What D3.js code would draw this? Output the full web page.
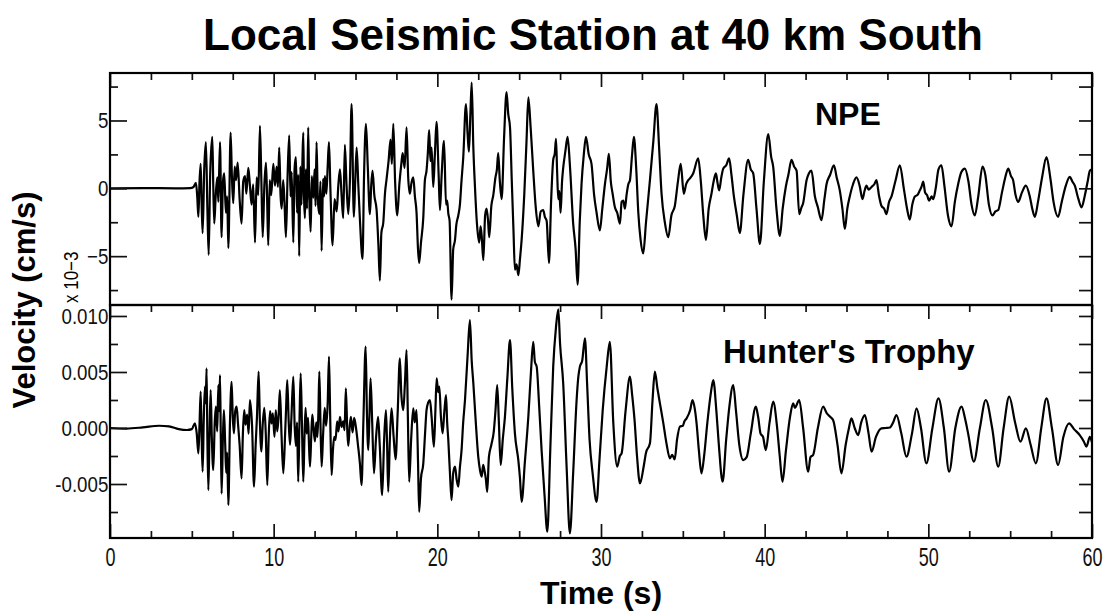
<!DOCTYPE html>
<html>
<head>
<meta charset="utf-8">
<script src="https://cdn.jsdelivr.net/npm/d3@7"></script>
<style>
  body { margin: 0; background: #fff; }
</style>
</head>
<body>
<div id="chart"></div>
<script>
// velocity traces, [time (s), velocity (x 10^-3 cm/s)]
const npeTrace = [
  [0,0],[2,0.02],[4,0],[4.9,0.02],[5.1,0.1],[5.25,0.4],[5.33,-0.6],[5.40,-2.1],[5.47,0.5],[5.54,1.8],[5.60,-1.2],[5.66,-3.3],
  [5.76,1.5],[5.86,3.4],[5.95,-1.5],[6.03,-4.9],[6.12,1.0],[6.25,3.8],[6.31,0.2],[6.37,-2.6],[6.46,-0.5],[6.56,0.8],[6.62,-1.0],
  [6.72,3.4],[6.82,-3.6],[6.90,0.5],[6.98,1.1],[7.08,-1.8],[7.16,-0.6],[7.23,-4.4],[7.37,4.1],[7.45,0.8],[7.53,-1.1],[7.62,1.6],
  [7.70,0.6],[7.80,1.9],[7.92,-0.8],[8.04,-2.6],[8.14,0.5],[8.25,0.9],[8.33,-0.4],[8.45,1.5],[8.55,0.2],[8.65,-1.2],[8.75,0.3],
  [8.86,-4.0],[8.96,0.8],[9.06,-0.5],[9.16,4.6],[9.25,0.5],[9.33,-3.6],[9.43,0.2],[9.53,1.9],[9.60,-0.8],[9.67,-4.2],[9.76,0.6],
  [9.85,-0.5],[9.98,1.8],[10.08,0.2],[10.18,1.6],[10.26,0.1],[10.34,3.0],[10.42,-0.5],[10.49,-1.5],[10.58,0.6],[10.66,-1.0],
  [10.75,-3.6],[10.85,0.9],[10.95,3.9],[11.03,-0.6],[11.10,1.2],[11.20,-4.0],[11.28,1.5],[11.36,2.3],[11.43,-1.8],[11.50,1.0],
  [11.56,-5.0],[11.63,1.6],[11.70,-1.2],[11.76,2.2],[11.81,4.1],[11.86,-0.8],[11.91,-2.2],[11.97,1.4],[12.04,-1.5],[12.11,4.5],
  [12.18,-0.8],[12.26,-3.2],[12.33,0.9],[12.42,-0.7],[12.50,1.4],[12.56,-1.3],[12.62,3.4],[12.70,-0.9],[12.79,-1.9],[12.86,0.5],
  [12.93,-4.6],[13.02,0.7],[13.08,-0.6],[13.13,0.9],[13.22,-0.4],[13.30,1.6],[13.38,3.4],[13.47,-0.2],[13.60,-4.2],[13.72,-0.8],
  [13.85,-1.7],[13.95,0.2],[14.05,1.4],[14.15,-0.5],[14.25,-2.2],[14.35,3.2],[14.45,0.3],[14.56,-1.9],[14.66,0.6],[14.76,6.2],
  [14.90,-2.1],[14.98,0.4],[15.07,3.0],[15.17,0.3],[15.27,-2.3],[15.43,-5.2],[15.52,0.8],[15.64,4.75],[15.75,1.6],[15.88,-1.9],
  [15.96,0.2],[16.04,1.3],[16.15,-0.5],[16.29,-1.6],[16.40,-4.2],[16.49,-6.8],[16.58,-3.3],[16.70,-2.5],[16.80,-0.4],[16.90,0.7],
  [17.02,2.0],[17.14,3.6],[17.22,1.8],[17.31,4.75],[17.42,0.5],[17.55,-2.0],[17.68,0.3],[17.80,1.8],[17.88,2.6],[18.00,1.5],
  [18.12,4.5],[18.22,0.8],[18.32,-0.4],[18.42,0.4],[18.53,0.8],[18.63,-0.6],[18.73,-1.8],[18.82,-4.5],[18.89,-5.5],[19.00,-4.0],
  [19.14,-2.2],[19.24,0.6],[19.34,1.3],[19.42,2.6],[19.50,4.3],[19.58,2.0],[19.65,3.0],[19.75,0.1],[19.85,2.5],[19.95,4.9],
  [20.08,1.0],[20.16,-1.6],[20.26,0.9],[20.41,3.5],[20.53,-1.2],[20.60,-0.9],[20.67,-1.85],[20.75,-2.4],[20.87,-8.2],[20.97,-4.5],
  [21.08,-3.8],[21.16,-2.7],[21.28,-2.0],[21.38,-1.2],[21.48,0.6],[21.58,2.2],[21.75,6.2],[21.85,4.0],[21.93,2.7],[22.02,5.5],
  [22.10,7.8],[22.20,3.0],[22.30,0.1],[22.42,-2.6],[22.56,-4.0],[22.64,-2.8],[22.71,-3.5],[22.81,-5.3],[22.92,-2.0],[23.01,-1.5],
  [23.10,-2.4],[23.17,-3.6],[23.30,-1.3],[23.42,-0.5],[23.55,0.8],[23.64,1.4],[23.72,2.6],[23.82,0.5],[23.93,-0.8],[24.08,3.8],
  [24.23,7.1],[24.33,5.5],[24.44,4.5],[24.55,0.5],[24.65,-3.0],[24.74,-6.0],[24.84,-5.6],[24.95,-6.4],[25.05,-5.2],[25.15,-3.8],
  [25.31,-0.5],[25.45,3.5],[25.56,6.7],[25.70,4.5],[25.86,1.3],[26.02,-1.5],[26.17,-2.8],[26.32,-1.7],[26.47,-1.6],[26.57,-2.1],
  [26.68,-2.4],[26.82,-5.5],[26.95,-1.0],[27.08,2.1],[27.18,2.6],[27.25,3.65],[27.32,1.2],[27.39,-0.8],[27.46,-0.2],[27.53,-1.8],
  [27.62,0.5],[27.69,1.5],[27.82,2.7],[27.96,3.8],[28.10,1.7],[28.30,-2.6],[28.45,-4.5],[28.57,-7.1],[28.70,-2.5],[28.81,0.3],
  [28.95,2.5],[29.08,3.8],[29.25,2.5],[29.42,1.8],[29.58,-0.5],[29.73,-1.8],[29.93,-3.1],[30.08,-1.5],[30.24,0.3],[30.38,1.5],
  [30.48,2.55],[30.60,0.5],[30.71,-0.4],[30.85,-1.4],[30.99,-1.8],[31.16,-2.6],[31.26,-1.0],[31.36,-0.9],[31.46,-1.5],[31.56,-0.5],
  [31.67,0.3],[31.77,0.6],[31.90,2.5],[32.01,3.8],[32.15,1.5],[32.28,-1.8],[32.42,-3.8],[32.58,-4.8],[32.75,-2.5],[32.99,0.6],
  [33.20,3.5],[33.39,6.2],[33.55,3.0],[33.70,-0.4],[33.90,-2.5],[34.11,-3.6],[34.30,-2.0],[34.51,-1.3],[34.70,0.5],[34.87,1.8],
  [35.06,-0.4],[35.20,0.3],[35.33,0.6],[35.48,0.8],[35.63,1.1],[35.94,2.2],[36.10,0.5],[36.25,-2.0],[36.41,-3.8],[36.58,-1.5],
  [36.75,-0.4],[36.88,0.5],[37.02,1.1],[37.12,0.4],[37.22,-0.15],[37.35,0.8],[37.47,1.45],[37.65,1.7],[37.83,2.2],[37.97,1.0],
  [38.12,-0.6],[38.30,-2.0],[38.48,-3.3],[38.70,-0.5],[38.99,2.1],[39.15,1.4],[39.30,1.1],[39.50,-1.5],[39.71,-4.1],[39.95,0.5],
  [40.22,4.0],[40.40,2.3],[40.52,1.6],[40.72,-1.5],[40.93,-3.5],[41.10,-1.5],[41.29,0.1],[41.45,1.0],[41.64,2.1],[41.80,1.6],
  [41.95,1.3],[42.11,-1.9],[42.25,-1.4],[42.35,-1.1],[42.56,0.6],[42.70,1.1],[42.86,1.3],[43.07,-0.6],[43.25,-1.4],[43.47,-2.35],
  [43.65,-0.8],[43.78,0.3],[44.00,1.0],[44.23,1.7],[44.40,0.8],[44.59,-0.15],[44.75,-1.5],[44.90,-3.0],[45.05,-1.5],[45.20,-0.6],
  [45.40,0.3],[45.61,0.8],[45.80,0.2],[45.98,-0.8],[46.10,-0.2],[46.22,0.2],[46.35,-0.1],[46.53,0.1],[46.70,0.3],[46.83,0.6],
  [46.98,-0.5],[47.14,-1.3],[47.30,-1.5],[47.44,-1.9],[47.60,-1.0],[47.75,-0.6],[48.00,0.6],[48.26,1.7],[48.50,0.0],[48.70,-1.5],
  [48.87,-2.3],[49.02,-1.2],[49.18,-0.6],[49.33,-0.5],[49.48,-0.15],[49.58,0.1],[49.69,0.5],[49.80,-0.3],[49.92,-0.5],[50.05,-0.9],
  [50.20,-0.6],[50.30,-0.8],[50.45,0.0],[50.62,1.4],[50.80,1.7],[50.98,0.2],[51.20,-2.0],[51.42,-2.8],[51.62,-1.0],[51.82,0.3],
  [52.02,1.2],[52.23,1.45],[52.45,0.5],[52.64,-1.2],[52.84,-2.0],[53.05,-0.6],[53.31,1.6],[53.48,1.0],[53.70,-1.2],[53.92,-2.0],
  [54.10,-1.7],[54.27,-1.6],[54.50,-0.3],[54.70,0.8],[54.88,1.45],[55.05,0.9],[55.18,0.6],[55.33,-0.5],[55.49,-1.0],[55.72,-0.3],
  [55.96,0.2],[56.20,-0.6],[56.35,-1.5],[56.51,-2.1],[56.70,-1.0],[56.95,0.8],[57.22,2.3],[57.45,0.8],[57.65,-1.0],[57.93,-2.1],
  [58.15,-1.0],[58.40,0.2],[58.64,0.85],[58.80,0.5],[58.95,0.2],[59.15,-0.7],[59.36,-1.4],[59.55,-0.6],[59.75,0.6],[59.87,1.3],[60,1.4]
];

const hunterTrace = [
  [0,0],[1,-0.05],[2,0.05],[3,0.2],[3.6,0.15],[4.2,-0.1],[4.7,-0.18],[5.0,-0.1],[5.19,0.42],[5.30,-0.5],[5.40,-2.26],[5.47,0.3],
  [5.54,3.24],[5.60,-0.8],[5.66,-3.9],[5.73,0.8],[5.80,3.69],[5.85,2.2],[5.90,5.33],[5.95,-1.0],[6.01,-5.55],[6.08,-0.5],[6.15,3.39],
  [6.22,-0.8],[6.31,-3.75],[6.40,0.5],[6.47,1.9],[6.55,-0.3],[6.62,3.84],[6.67,1.5],[6.72,4.73],[6.77,-0.8],[6.82,-5.85],[6.90,-0.8],
  [6.96,1.6],[7.04,-1.5],[7.10,-4.0],[7.16,-2.2],[7.23,-6.88],[7.33,0.5],[7.43,4.13],[7.50,1.0],[7.57,-0.48],[7.65,1.5],[7.74,1.9],
  [7.82,0.4],[7.92,-1.5],[8.04,-4.5],[8.12,-0.5],[8.20,1.6],[8.28,0.3],[8.38,1.2],[8.47,-0.5],[8.55,2.5],[8.68,0.2],[8.80,-5.24],
  [8.90,-1.5],[8.98,1.0],[9.08,5.03],[9.16,0.5],[9.25,-2.1],[9.33,0.3],[9.43,1.8],[9.52,-0.6],[9.61,-5.1],[9.70,-0.6],[9.78,1.5],
  [9.87,0.4],[9.95,1.3],[10.05,-0.8],[10.13,1.6],[10.22,-0.3],[10.30,1.0],[10.38,3.39],[10.48,-0.6],[10.59,-4.05],[10.70,-0.5],
  [10.76,1.8],[10.83,4.28],[10.92,0.5],[11.00,-1.5],[11.08,0.8],[11.20,4.58],[11.28,0.3],[11.36,-1.6],[11.43,0.5],[11.50,-4.8],
  [11.58,0.8],[11.65,4.88],[11.73,0.2],[11.81,-4.8],[11.88,-1.0],[11.95,1.8],[12.02,-0.5],[12.10,0.9],[12.16,-1.6],[12.22,-3.45],
  [12.30,-0.6],[12.36,1.2],[12.42,0.3],[12.52,-1.2],[12.60,0.5],[12.67,-0.8],[12.73,1.2],[12.79,5.03],[12.86,0.4],[12.93,-3.45],
  [13.02,-0.6],[13.12,1.8],[13.20,0.2],[13.30,2.2],[13.38,6.37],[13.46,0.5],[13.54,-4.2],[13.62,-2.0],[13.70,-0.8],[13.78,-1.06],
  [13.88,0.6],[13.96,-0.3],[14.05,1.0],[14.15,0.1],[14.25,0.6],[14.33,-0.2],[14.41,3.54],[14.50,-0.3],[14.56,-1.6],[14.65,0.2],
  [14.72,1.0],[14.82,-0.4],[14.92,0.9],[15.05,-0.2],[15.15,-1.5],[15.27,-3.17],[15.37,-5.1],[15.48,0.5],[15.62,7.26],[15.70,1.2],
  [15.78,-1.97],[15.85,1.0],[15.92,4.43],[16.02,0.5],[16.13,-4.05],[16.25,-1.0],[16.38,1.0],[16.48,-1.5],[16.63,-6.0],[16.75,-1.0],
  [16.86,1.6],[16.93,-1.5],[17.00,-5.7],[17.10,-1.0],[17.20,1.75],[17.33,-0.8],[17.45,-2.8],[17.58,1.5],[17.71,6.22],[17.80,3.0],
  [17.92,1.6],[18.02,4.0],[18.12,6.96],[18.20,1.0],[18.28,-4.8],[18.40,-1.0],[18.53,1.75],[18.62,0.5],[18.73,1.6],[18.82,-3.0],
  [18.89,-7.48],[19.00,-4.5],[19.14,-3.2],[19.25,-0.5],[19.34,1.6],[19.45,2.3],[19.55,2.5],[19.65,1.0],[19.79,-1.67],[19.88,1.5],
  [19.96,4.43],[20.05,3.2],[20.12,3.69],[20.22,1.0],[20.32,-0.48],[20.43,1.5],[20.53,2.94],[20.60,0.5],[20.67,-1.07],[20.77,-4.0],
  [20.87,-6.44],[20.97,-4.0],[21.08,-3.45],[21.18,-4.6],[21.28,-5.24],[21.38,-3.5],[21.48,-1.97],[21.58,0.5],[21.69,2.5],[21.85,6.5],
  [21.99,9.64],[22.10,6.0],[22.20,3.99],[22.35,0.5],[22.50,-2.56],[22.61,-3.8],[22.71,-4.35],[22.80,-3.3],[22.88,-3.8],[22.96,-4.5],
  [23.05,-5.7],[23.15,-2.6],[23.30,-1.5],[23.45,-0.3],[23.55,1.5],[23.66,3.84],[23.76,0.5],[23.87,-3.3],[24.00,-1.0],[24.13,1.0],
  [24.28,4.5],[24.44,7.85],[24.58,3.5],[24.74,-0.48],[24.95,-2.9],[25.05,-4.5],[25.15,-6.59],[25.35,-3.0],[25.56,1.0],[25.72,5.0],
  [25.86,7.70],[25.96,5.9],[26.07,5.48],[26.22,2.0],[26.37,-1.97],[26.55,-6.0],[26.72,-9.26],[26.90,-2.0],[27.08,5.48],[27.25,9.0],
  [27.39,10.6],[27.50,7.5],[27.69,3.99],[27.90,-3.5],[28.10,-9.41],[28.30,-4.0],[28.51,2.5],[28.61,4.5],[28.71,5.48],[28.85,6.0],
  [29.02,8.0],[29.15,4.0],[29.30,-1.0],[29.50,-4.2],[29.73,-6.59],[29.90,-3.0],[30.10,1.5],[30.35,5.5],[30.54,7.7],[30.75,0.5],
  [30.99,-3.45],[31.15,-2.5],[31.26,-2.26],[31.50,1.5],[31.77,4.58],[31.90,3.0],[32.05,0.7],[32.20,-2.5],[32.38,-4.95],[32.60,-3.5],
  [32.75,-2.2],[32.99,-1.37],[33.15,2.5],[33.29,5.03],[33.45,3.5],[33.60,2.2],[33.80,0.5],[34.00,-1.37],[34.21,-2.71],[34.35,-2.4],
  [34.50,-2.8],[34.65,-1.0],[34.82,0.12],[35.00,0.2],[35.10,0.6],[35.23,0.86],[35.45,1.6],[35.59,2.5],[35.72,1.8],[35.84,0.42],
  [35.98,-2.0],[36.14,-4.05],[36.30,-2.5],[36.50,0.5],[36.70,3.0],[36.86,4.28],[37.05,1.5],[37.20,-1.5],[37.43,-4.8],[37.65,-1.0],
  [37.85,2.0],[38.08,3.84],[38.25,1.5],[38.45,-1.5],[38.69,-2.86],[38.90,-2.6],[39.15,-0.5],[39.46,1.9],[39.60,1.0],[39.75,-0.5],
  [39.90,-0.8],[40.07,-1.97],[40.30,0.5],[40.52,2.35],[40.75,0.2],[40.92,-2.5],[41.09,-4.8],[41.30,-2.0],[41.55,1.0],[41.74,2.2],
  [41.85,1.8],[42.11,2.5],[42.35,0.0],[42.66,-3.9],[42.80,-2.6],[42.96,-2.41],[43.25,0.0],[43.57,1.9],[43.80,1.3],[44.00,1.0],
  [44.18,0.71],[44.45,-1.5],[44.69,-4.05],[44.95,-1.5],[45.15,0.0],[45.30,0.86],[45.50,0.0],[45.71,-0.63],[45.90,0.5],[46.12,1.16],
  [46.35,-0.5],[46.53,-2.12],[46.80,-0.8],[47.14,-0.03],[47.40,0.0],[47.65,0.05],[47.85,0.5],[48.05,1.16],[48.35,-0.5],[48.66,-2.56],
  [49.00,-0.5],[49.28,1.75],[49.55,0.0],[49.88,-3.15],[50.25,0.0],[50.62,2.64],[50.95,0.0],[51.27,-3.9],[51.65,0.0],[52.03,1.9],
  [52.25,0.8],[52.43,-0.48],[52.78,-3.0],[53.15,0.0],[53.51,2.5],[53.90,0.0],[54.27,-3.45],[54.60,0.0],[54.94,2.8],[55.30,0.5],
  [55.63,-1.22],[55.96,-0.03],[56.25,-1.5],[56.57,-3.15],[56.90,0.0],[57.22,2.64],[57.55,0.0],[57.93,-3.3],[58.25,-0.8],[58.60,0.42],
  [58.90,-0.1],[59.25,-0.63],[59.50,-1.2],[59.66,-1.67],[59.87,-0.8],[60,-1.3]
];

// axis ticks
const timeLabels = [0, 10, 20, 30, 40, 50, 60];
const timeMinor = [2.5, 5, 7.5, 12.5, 15, 17.5, 22.5, 25, 27.5, 32.5, 35, 37.5, 42.5, 45, 47.5, 52.5, 55, 57.5];
const npeLabels = [-5, 0, 5];
const npeMinor = [-7.5, -2.5, 2.5, 7.5];
const hunterLabels = [-5, 0, 5, 10];          // x 10^-3, shown as cm/s
const hunterMinor = [-7.5, -2.5, 2.5, 7.5];

const width = 1104;
const height = 612;
const plot = { left: 110, right: 1092, top: 73, mid: 305, bottom: 538 };

const tickFont = "'Liberation Sans', Arial, Helvetica, sans-serif";
const boldFont = "'Liberation Sans', Arial, Helvetica, sans-serif";

const svg = d3.select("#chart")
  .append("svg")
  .attr("width", width)
  .attr("height", height)
  .style("background-color", "white");

// scales
const xScale = d3.scaleLinear().domain([0, 60]).range([plot.left, plot.right]);
const yNpe = d3.scaleLinear().domain([-8.6, 8.5]).range([plot.mid, plot.top]);
const yHunter = d3.scaleLinear().domain([-9.82, 10.98]).range([plot.bottom, plot.mid]);

const hunterFormat = (d) => d3.format(".3f")(d / 1000).replace("\u2212", "-");

// clip paths for both panels
const defs = svg.append("defs");
defs.append("clipPath").attr("id", "clip-top")
  .append("rect")
  .attr("x", plot.left).attr("y", plot.top)
  .attr("width", plot.right - plot.left).attr("height", plot.mid - plot.top);
defs.append("clipPath").attr("id", "clip-bottom")
  .append("rect")
  .attr("x", plot.left).attr("y", plot.mid)
  .attr("width", plot.right - plot.left).attr("height", plot.bottom - plot.mid);

function drawTrace(data, yScale, clipId) {
  const lineGenerator = d3.line()
    .curve(d3.curveMonotoneX)
    .x((d) => xScale(d[0]))
    .y((d) => yScale(d[1]));

  svg.append("path")
    .attr("clip-path", `url(#${clipId})`)
    .attr("d", lineGenerator(data))
    .attr("fill", "none")
    .attr("stroke", "#000")
    .attr("stroke-width", 2.2)
    .attr("stroke-linejoin", "round");
}

drawTrace(npeTrace, yNpe, "clip-top");
drawTrace(hunterTrace, yHunter, "clip-bottom");

// helper: a row of ticks with no domain line; labels squeezed like a condensed face
function tickRow(axis, transform, fontSize, squeeze) {
  const g = svg.append("g")
    .attr("transform", transform)
    .call(axis)
    .call((g) => g.select(".domain").remove())
    .call((g) => g.selectAll("line").attr("stroke", "#111").attr("stroke-width", 1.7))
    .call((g) => g.selectAll("text").attr("transform", `scale(${squeeze || 1},1)`))
    .attr("font-family", tickFont)
    .attr("font-size", fontSize || 20)
    .attr("color", "#111");
  return g;
}

// time ticks along the top of both panels (pointing down)
[plot.top, plot.mid].forEach((yPos) => {
  tickRow(d3.axisBottom(xScale).tickValues(timeLabels).tickSize(14).tickFormat(""), `translate(0,${yPos})`);
  tickRow(d3.axisBottom(xScale).tickValues(timeMinor).tickSize(7).tickFormat(""), `translate(0,${yPos})`);
});

// bottom time axis (pointing up, labels below)
tickRow(
  d3.axisBottom(xScale).tickValues(timeLabels).tickSizeInner(-14).tickSizeOuter(0).tickPadding(10).tickFormat(d3.format("d")),
  `translate(0,${plot.bottom})`, 25, 0.72
);
tickRow(d3.axisBottom(xScale).tickValues(timeMinor).tickSize(-7).tickFormat(""), `translate(0,${plot.bottom})`);

// left velocity axes
tickRow(
  d3.axisLeft(yNpe).tickValues(npeLabels).tickSizeInner(-17).tickSizeOuter(0).tickPadding(2).tickFormat(d3.format("d")),
  `translate(${plot.left},0)`, 22, 0.85
);
tickRow(d3.axisLeft(yNpe).tickValues(npeMinor).tickSize(-8).tickFormat(""), `translate(${plot.left},0)`);
tickRow(
  d3.axisLeft(yHunter).tickValues(hunterLabels).tickSizeInner(-17).tickSizeOuter(0).tickPadding(2).tickFormat(hunterFormat),
  `translate(${plot.left},0)`, 22, 0.85
);
tickRow(d3.axisLeft(yHunter).tickValues(hunterMinor).tickSize(-8).tickFormat(""), `translate(${plot.left},0)`);

// right side ticks
tickRow(d3.axisRight(yNpe).tickValues(npeLabels.concat(npeMinor)).tickSize(-13).tickFormat(""), `translate(${plot.right},0)`);
tickRow(d3.axisRight(yHunter).tickValues(hunterLabels.concat(hunterMinor)).tickSize(-13).tickFormat(""), `translate(${plot.right},0)`);

// panel frames
[[plot.top, plot.mid], [plot.mid, plot.bottom]].forEach(([y0, y1]) => {
  svg.append("rect")
    .attr("x", plot.left)
    .attr("y", y0)
    .attr("width", plot.right - plot.left)
    .attr("height", y1 - y0)
    .attr("fill", "none")
    .attr("stroke", "#000")
    .attr("stroke-width", 2.2);
});

// titles and labels
svg.append("text")
  .attr("x", 593)
  .attr("y", 50)
  .attr("text-anchor", "middle")
  .attr("font-family", boldFont)
  .attr("font-weight", 700)
  .attr("font-size", 44)
  .text("Local Seismic Station at 40 km South");

svg.append("text")
  .attr("x", 601)
  .attr("y", 604)
  .attr("text-anchor", "middle")
  .attr("font-family", boldFont)
  .attr("font-weight", 700)
  .attr("font-size", 32)
  .text("Time (s)");

svg.append("text")
  .attr("transform", "translate(35,300) rotate(-90)")
  .attr("text-anchor", "middle")
  .attr("font-family", boldFont)
  .attr("font-weight", 700)
  .attr("font-size", 31)
  .text("Velocity (cm/s)");

svg.append("text")
  .attr("transform", "translate(78,303) rotate(-90) scale(0.85,1)")
  .attr("text-anchor", "start")
  .attr("font-family", tickFont)
  .attr("font-size", 20)
  .text("x 10\u22123");

svg.append("text")
  .attr("x", 815)
  .attr("y", 125)
  .attr("font-family", boldFont)
  .attr("font-weight", 700)
  .attr("font-size", 32)
  .text("NPE");

svg.append("text")
  .attr("x", 723)
  .attr("y", 363)
  .attr("font-family", boldFont)
  .attr("font-weight", 700)
  .attr("font-size", 33)
  .text("Hunter's Trophy");
</script>
</body>
</html>
